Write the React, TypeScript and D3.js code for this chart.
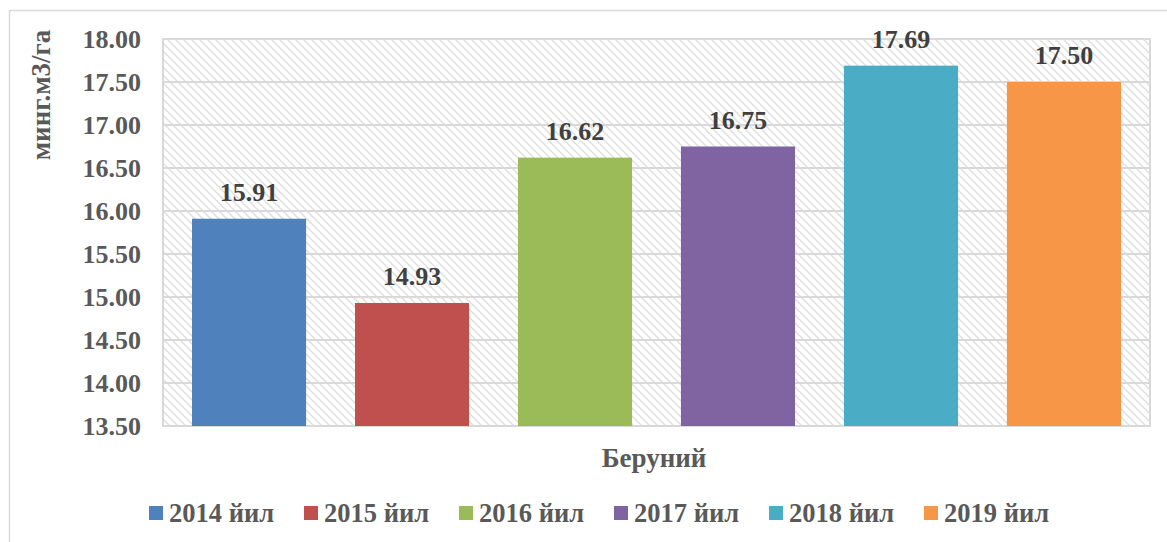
import { useEffect, useRef } from "react";
import * as d3 from "d3";

const years = ["2014 йил", "2015 йил", "2016 йил", "2017 йил", "2018 йил", "2019 йил"];
const values = [15.91, 14.93, 16.62, 16.75, 17.69, 17.5];
const colors = ["#4F81BD", "#C0504D", "#9BBB59", "#8064A2", "#4BACC6", "#F79646"];
const yTicks = [13.5, 14, 14.5, 15, 15.5, 16, 16.5, 17, 17.5, 18];
const categoryLabel = "Беруний";
const yAxisTitle = "минг.м3/га";

const FONT = "'Liberation Serif', 'Times New Roman', serif";

const App = () => {
  const chartContainer = useRef<SVGSVGElement | null>(null);

  useEffect(() => {
    const width = 1167;
    const height = 542;
    const plot = { left: 163, top: 39, right: 1150, bottom: 426 };

    const svg = d3.select(chartContainer.current);
    svg.selectAll("*").remove();

    // hatch fill for plot area
    const defs = svg.append("defs");
    const pat = defs
      .append("pattern")
      .attr("id", "hatch")
      .attr("patternUnits", "userSpaceOnUse")
      .attr("width", 8)
      .attr("height", 8);
    pat.append("rect").attr("width", 8).attr("height", 8).attr("fill", "#fff");
    pat
      .append("path")
      .attr("d", "M-1,-1 L9,9 M-1,7 L1,9 M7,-1 L9,1")
      .attr("stroke", "#dfdfdf")
      .attr("stroke-width", 1.5);

    svg.append("rect").attr("width", width).attr("height", height).attr("fill", "#fff");

    // chart outer border
    svg
      .append("rect")
      .attr("x", 9.5)
      .attr("y", 10.5)
      .attr("width", width + 20)
      .attr("height", height + 20)
      .attr("fill", "none")
      .attr("stroke", "#d9d9d9")
      .attr("stroke-width", 1.5);

    const x = d3
      .scaleBand()
      .domain(years)
      .range([plot.left, plot.right])
      .paddingInner(0.3)
      .paddingOuter(0.178);

    const y = d3.scaleLinear().domain([13.5, 18]).range([plot.bottom, plot.top]);

    svg
      .append("rect")
      .attr("x", plot.left)
      .attr("y", plot.top)
      .attr("width", plot.right - plot.left)
      .attr("height", plot.bottom - plot.top)
      .attr("fill", "url(#hatch)")
      .attr("stroke", "#d9d9d9")
      .attr("stroke-width", 2);

    // gridlines
    svg
      .append("g")
      .selectAll("line")
      .data(yTicks)
      .enter()
      .append("line")
      .attr("x1", plot.left)
      .attr("x2", plot.right)
      .attr("y1", (d) => y(d))
      .attr("y2", (d) => y(d))
      .attr("stroke", "#d9d9d9")
      .attr("stroke-width", 2);

    // y tick labels
    svg
      .append("g")
      .selectAll("text")
      .data(yTicks)
      .enter()
      .append("text")
      .attr("x", 141)
      .attr("y", (d) => y(d))
      .attr("dy", "0.35em")
      .attr("text-anchor", "end")
      .attr("font-family", FONT)
      .attr("font-weight", "bold")
      .attr("font-size", 26)
      .attr("fill", "#595959")
      .text((d) => d.toFixed(2));

    // bars
    svg
      .selectAll(".bar")
      .data(values)
      .enter()
      .append("rect")
      .attr("class", "bar")
      .attr("x", (_d, i) => x(years[i]) || 0)
      .attr("y", (d) => y(d))
      .attr("width", x.bandwidth())
      .attr("height", (d) => plot.bottom - y(d))
      .attr("fill", (_d, i) => colors[i]);

    // value labels
    svg
      .selectAll(".val")
      .data(values)
      .enter()
      .append("text")
      .attr("class", "val")
      .attr("x", (_d, i) => (x(years[i]) || 0) + x.bandwidth() / 2)
      .attr("y", (d) => y(d) - 18)
      .attr("text-anchor", "middle")
      .attr("font-family", FONT)
      .attr("font-weight", "bold")
      .attr("font-size", 26)
      .attr("fill", "#404040")
      .text((d) => d.toFixed(2));

    // axis titles
    svg
      .append("text")
      .attr("x", 654)
      .attr("y", 467)
      .attr("text-anchor", "middle")
      .attr("font-family", FONT)
      .attr("font-weight", "bold")
      .attr("font-size", 27)
      .attr("fill", "#595959")
      .text(categoryLabel);

    svg
      .append("text")
      .attr("transform", "translate(50,95) rotate(-90)")
      .attr("text-anchor", "middle")
      .attr("font-family", FONT)
      .attr("font-weight", "bold")
      .attr("font-size", 27)
      .attr("fill", "#595959")
      .text(yAxisTitle);

    // legend
    const legend = svg
      .append("g")
      .selectAll("g")
      .data(years)
      .enter()
      .append("g")
      .attr("transform", (_d, i) => `translate(${149 + i * 155},506)`);

    legend
      .append("rect")
      .attr("width", 14)
      .attr("height", 14)
      .attr("fill", (_d, i) => colors[i]);

    legend
      .append("text")
      .attr("x", 20)
      .attr("y", 16)
      .attr("font-family", FONT)
      .attr("font-weight", "bold")
      .attr("font-size", 26.5)
      .attr("fill", "#595959")
      .text((d) => d);
  }, []);

  return (
    <svg
      ref={chartContainer}
      width={1167}
      height={542}
      style={{ position: "absolute", left: 0, top: 0 }}
    ></svg>
  );
};

export default App;
